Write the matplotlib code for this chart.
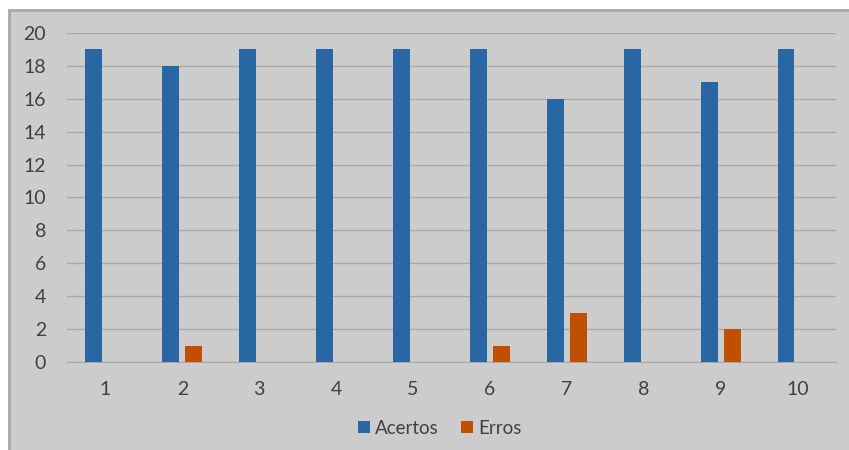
import matplotlib.pyplot as plt
import matplotlib.patches as mpatches
import numpy as np

plt.rcParams['font.family'] = ['Lato', 'DejaVu Sans']

categories = ['1', '2', '3', '4', '5', '6', '7', '8', '9', '10']
acertos = [19, 18, 19, 19, 19, 19, 16, 19, 17, 19]
erros = [0, 1, 0, 0, 0, 1, 3, 0, 2, 0]

bg = '#cccccc'
blue = '#2866a4'
orange = '#c04f02'
grid = '#a9a9a9'
text = '#404040'

fig = plt.figure(figsize=(8.49, 4.5), dpi=100)
fig.patch.set_facecolor('white')

# grey chart area with darker top/left edge (right/bottom run off the image)
fig.patches.append(mpatches.Rectangle((9 / 849, -0.1), 1.1, 1.1 - 10 / 450,
                                      transform=fig.transFigure, facecolor=bg,
                                      edgecolor='#a6a6a6', linewidth=2, zorder=-10))

ax = fig.add_axes([67 / 849, 1 - 362 / 450, (836 - 67) / 849, (362 - 33) / 450])
ax.set_facecolor(bg)

x = np.arange(len(categories))
w = 0.22
ax.bar(x - 0.15, acertos, w, color=blue, label='Acertos', zorder=3)
ax.bar(x + 0.15, erros, w, color=orange, label='Erros', zorder=3)

ax.set_xlim(-0.5, len(categories) - 0.5)
ax.set_ylim(0, 20)
ax.set_yticks(range(0, 21, 2))
ax.set_xticks(x)
ax.set_xticklabels(categories)
ax.yaxis.grid(True, color=grid, linewidth=1, zorder=0)
ax.set_axisbelow(True)
for s in ['top', 'right', 'left']:
    ax.spines[s].set_visible(False)
ax.spines['bottom'].set_color(grid)
ax.tick_params(axis='both', length=0, labelsize=14, colors=text)
ax.tick_params(axis='x', pad=14)
ax.tick_params(axis='y', pad=15)

leg = fig.legend(loc='center', bbox_to_anchor=(440 / 849, 1 - 428 / 450),
                 ncol=2, frameon=False, fontsize=13.5, handlelength=0.6,
                 handleheight=0.6, handletextpad=0.3, columnspacing=1.2)
for t in leg.get_texts():
    t.set_color(text)

fig.savefig('out.png', dpi=100)
